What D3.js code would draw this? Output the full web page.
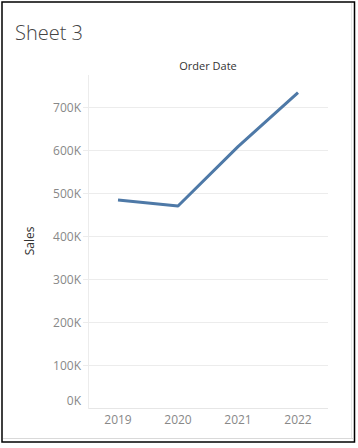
<!DOCTYPE html>
<html><head><meta charset="utf-8">
<script src="https://cdn.jsdelivr.net/npm/d3@7"></script>
<style>body{margin:0;background:#fff}svg{display:block}</style>
</head><body>
<svg id="c" width="358" height="448"></svg>
<script>
const years = ["2019","2020","2021","2022"];
const sales = [484247, 470533, 608473, 733947];
const yTicks = [0,100000,200000,300000,400000,500000,600000,700000];

const svg = d3.select("#c");
const W=358,H=448;
svg.append("rect").attr("width",W).attr("height",H).attr("fill","#fff");
// outer frame
svg.append("rect").attr("x",2).attr("y",2).attr("width",352.5).attr("height",440)
  .attr("fill","none").attr("stroke","#000").attr("stroke-width",1.5);
svg.append("line").attr("x1",3).attr("x2",353).attr("y1",438.5).attr("y2",438.5).attr("stroke","#d9d9d9");
svg.append("line").attr("x1",351.5).attr("x2",351.5).attr("y1",3).attr("y2",438).attr("stroke","#e6e6e6");

svg.append("text").attr("x",15).attr("y",40).text("Sheet 3")
  .attr("font-family","Open Sans").attr("font-weight",300).attr("font-size",20).attr("fill","#444");

const x = d3.scaleBand().domain(years).range([88,328]).padding(0);
const y = d3.scaleLinear().domain([0,700000]).range([408.3,107.3]);

// gridlines
svg.append("g").selectAll("line").data(yTicks.filter(d=>d>0)).join("line")
  .attr("x1",83).attr("x2",328).attr("y1",d=>Math.round(y(d))+0.5).attr("y2",d=>Math.round(y(d))+0.5)
  .attr("stroke","#ececec").attr("stroke-width",1);
// zero line
svg.append("line").attr("x1",88).attr("x2",328).attr("y1",Math.round(y(0))+0.5).attr("y2",Math.round(y(0))+0.5)
  .attr("stroke","#e6e6e6");
// left axis line
svg.append("line").attr("x1",88.5).attr("x2",88.5).attr("y1",75).attr("y2",409).attr("stroke","#ececec");

// y axis
const yAxis = d3.axisLeft(y).tickValues(yTicks).tickSize(0).tickPadding(0)
  .tickFormat(d=>(d/1000)+"K");
const gy = svg.append("g").attr("transform","translate(81,0)").call(yAxis);
gy.select(".domain").remove();
gy.selectAll("text").attr("font-family","Open Sans").attr("font-size",12).attr("fill","#888")
  .attr("dy",d=>d===0?"-0.3em":"0.38em");

// x axis
const xAxis = d3.axisBottom(x).tickSize(0).tickPadding(0);
const gx = svg.append("g").attr("transform","translate(0,424)").call(xAxis);
gx.select(".domain").remove();
gx.selectAll("text").attr("font-family","Open Sans").attr("font-size",12).attr("fill","#888").attr("y",0).attr("dy","0");

// titles
svg.append("text").attr("x",208).attr("y",70).attr("text-anchor","middle").text("Order Date")
  .attr("font-family","Open Sans").attr("font-size",11).attr("fill","#333");
svg.append("text").attr("transform","translate(34,241) rotate(-90)").attr("text-anchor","middle").text("Sales")
  .attr("font-family","Open Sans").attr("font-size",12).attr("fill","#333");

// line
const line = d3.line().x((d,i)=>x(years[i])+x.bandwidth()/2).y(d=>y(d));
svg.append("path").datum(sales).attr("d",line).attr("fill","none")
  .attr("stroke","#4e79a7").attr("stroke-width",3).attr("stroke-linejoin","round").attr("stroke-linecap","butt");
</script>
</body></html>
